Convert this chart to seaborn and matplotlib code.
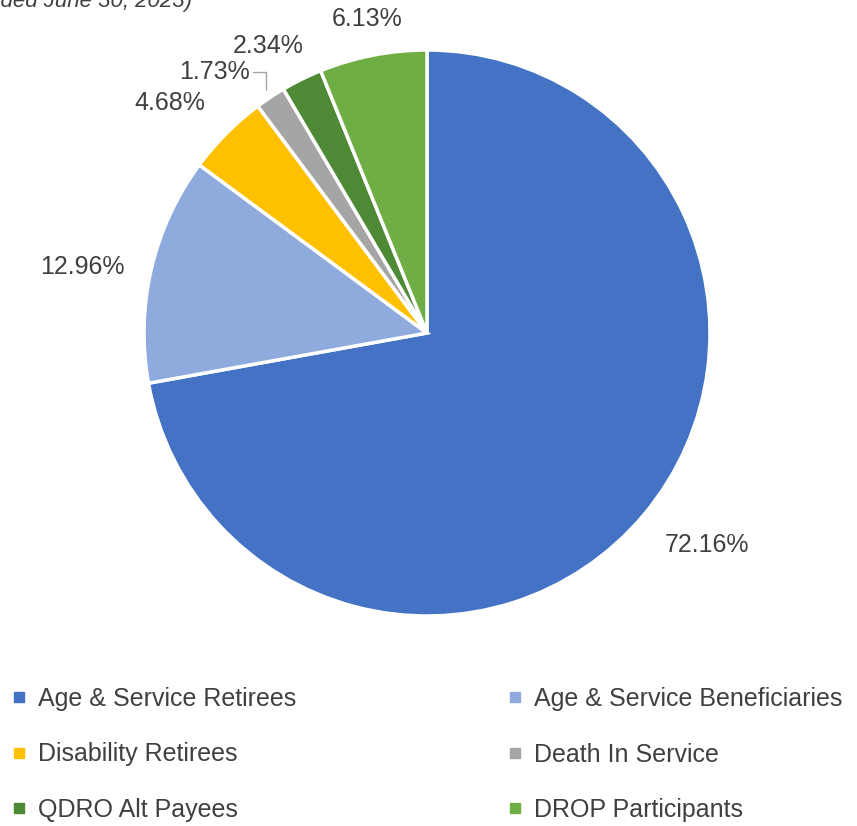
import numpy as np
import matplotlib
matplotlib.use("Agg")
import matplotlib.pyplot as plt
import seaborn as sns
from matplotlib.lines import Line2D

# Membership by type (fiscal year ended June 30, 2023)
categories = ['Age & Service Retirees', 'Age & Service Beneficiaries',
              'Disability Retirees', 'Death In Service',
              'QDRO Alt Payees', 'DROP Participants']
shares = [72.16, 12.96, 4.68, 1.73, 2.34, 6.13]
colors = ['#4472C4', '#8FAADC', '#FFC000', '#A5A5A5', '#4E8A35', '#6FAE45']

sns.set_theme(style='white')
plt.rcParams['font.family'] = ['Liberation Sans', 'DejaVu Sans']

fig = plt.figure(figsize=(8.57, 8.26), dpi=100)
ax = fig.add_axes([0, 0, 1, 1])

wedges, _ = ax.pie(shares, colors=colors, startangle=90, counterclock=False,
                   radius=1.0, wedgeprops=dict(edgecolor='white', linewidth=2.5))
# radius 1 pie centred at pixel (427, 333)
ax.set_xlim(-427 / 283, (857 - 427) / 283)
ax.set_ylim((333 - 826) / 283, 333 / 283)
ax.set_aspect('auto')
ax.axis('off')

# label placement: (distance, angle nudge) relative to each wedge's middle
label_dist = [1.24, 1.24, 1.22, 1.19, 1.16, 1.13]
label_nudge = [2.8, 2.3, 3.0, 5.5, 2.6, -0.2]
for w, val, d, nud in zip(wedges, shares, label_dist, label_nudge):
    mid = np.deg2rad((w.theta1 + w.theta2) / 2 + nud)
    ax.text(d * np.cos(mid), d * np.sin(mid), f'{val:.2f}%', ha='center', va='center',
            fontsize=18, color='#404040')

# leader line for the small grey slice
w = wedges[3]
mid = np.deg2rad((w.theta1 + w.theta2) / 2)
p0 = (1.03 * np.cos(mid), 1.03 * np.sin(mid))
ax.plot([p0[0], p0[0], p0[0] - 0.045], [p0[1], p0[1] + 0.065, p0[1] + 0.065],
        color='#A5A5A5', lw=1)

# clipped title from the page
fig.text(192 / 857, 1 - 2 / 826, '(Fiscal Year Ended June 30, 2023)', ha='right', va='center',
         fontsize=16, style='italic', color='#404040')

# legend entries placed row by row, two per row
order = [0, 2, 4, 1, 3, 5]
handles = [Line2D([], [], marker='s', linestyle='', markersize=7, color=colors[i]) for i in order]
labels = [categories[i] for i in order]
leg = fig.legend(handles, labels, ncol=2, loc='upper left',
                 bbox_to_anchor=(3 / 857, 1 - 677 / 826), frameon=False,
                 prop={'size': 18},
                 labelcolor='#404040', handlelength=0.5, handletextpad=0.5,
                 columnspacing=8.5, labelspacing=1.26, borderaxespad=0.0)

fig.savefig('out.png', dpi=100)
